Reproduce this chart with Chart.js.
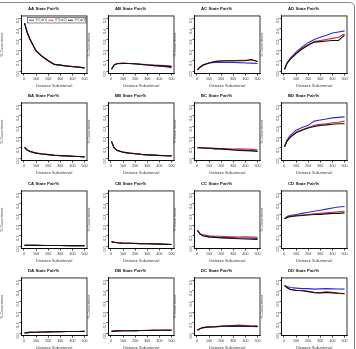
<!DOCTYPE html>
<html><head><meta charset="utf-8">
<script src="https://cdn.jsdelivr.net/npm/chart.js@4"></script>
<style>
html,body{margin:0;padding:0;background:#fff;width:356px;height:349px;overflow:hidden;position:relative;font-family:"Liberation Sans",Arial,sans-serif}
.p{position:absolute;width:90px;height:88px}
#frame{position:absolute;left:-4px;top:2px;width:357px;height:360px;border:1px solid #888;border-radius:5px}
</style></head><body>
<div id="frame"></div>
<script>
const xValues = [5, 25, 50, 100, 150, 200, 250, 300, 350, 400, 450, 500];
const xTicks = [0, 100, 200, 300, 400, 500];
const yTicks = [0, 0.1, 0.2, 0.3, 0.4, 0.5];
const seriesLabels = ['ST(ab1)', 'ST(ab2)', 'ST(ab3)'];
const seriesColors = ['#2b2bd6', '#d42a2a', '#111111'];
const panelNames = ['AA','AB','AC','AD','BA','BB','BC','BD','CA','CB','CC','CD','DA','DB','DC','DD'];

// each panel: [blue, red, black]
const AA = [
  [0.45,0.37,0.30,0.19,0.14,0.10,0.065,0.058,0.050,0.045,0.040,0.033],
  [0.455,0.375,0.305,0.195,0.143,0.103,0.068,0.060,0.053,0.047,0.042,0.035],
  [0.452,0.372,0.302,0.192,0.141,0.101,0.066,0.059,0.051,0.046,0.041,0.034]];
const AB = [
  [0.02,0.06,0.075,0.075,0.075,0.070,0.065,0.060,0.055,0.050,0.045,0.035],
  [0.02,0.06,0.075,0.078,0.075,0.072,0.068,0.065,0.060,0.058,0.055,0.050],
  [0.02,0.06,0.073,0.076,0.075,0.072,0.066,0.060,0.057,0.055,0.050,0.045]];
const AC = [
  [0.015,0.04,0.06,0.08,0.085,0.085,0.085,0.085,0.083,0.080,0.078,0.075],
  [0.015,0.04,0.058,0.08,0.095,0.100,0.100,0.100,0.105,0.105,0.108,0.095],
  [0.015,0.04,0.060,0.08,0.093,0.098,0.100,0.100,0.100,0.100,0.112,0.090]];
const AD = [
  [0.02,0.08,0.12,0.18,0.23,0.27,0.30,0.32,0.34,0.36,0.37,0.38],
  [0.02,0.075,0.115,0.17,0.22,0.25,0.28,0.29,0.30,0.31,0.32,0.35],
  [0.02,0.075,0.11,0.165,0.21,0.245,0.275,0.28,0.285,0.29,0.29,0.34]];
const BA = [
  [0.105,0.080,0.065,0.050,0.042,0.036,0.030,0.027,0.024,0.020,0.018,0.015],
  [0.105,0.082,0.066,0.051,0.043,0.037,0.031,0.028,0.025,0.022,0.019,0.016],
  [0.105,0.081,0.065,0.050,0.042,0.036,0.030,0.027,0.024,0.021,0.018,0.015]];
const BB = [
  [0.16,0.10,0.075,0.058,0.050,0.044,0.038,0.034,0.031,0.028,0.026,0.023],
  [0.16,0.102,0.077,0.060,0.051,0.045,0.039,0.035,0.032,0.029,0.027,0.025],
  [0.16,0.101,0.076,0.059,0.050,0.044,0.038,0.034,0.031,0.028,0.026,0.024]];
const BC = [
  [0.10,0.10,0.098,0.095,0.090,0.088,0.085,0.082,0.080,0.078,0.075,0.070],
  [0.10,0.10,0.100,0.098,0.095,0.093,0.090,0.088,0.090,0.088,0.085,0.082],
  [0.10,0.10,0.098,0.095,0.092,0.090,0.085,0.080,0.075,0.073,0.070,0.065]];
const BD = [
  [0.11,0.17,0.215,0.265,0.29,0.31,0.35,0.36,0.37,0.38,0.385,0.39],
  [0.11,0.165,0.20,0.245,0.27,0.29,0.31,0.32,0.325,0.335,0.34,0.35],
  [0.11,0.16,0.195,0.24,0.265,0.285,0.30,0.31,0.315,0.32,0.325,0.325]];
const CA = [
  [0.010,0.010,0.010,0.010,0.009,0.009,0.009,0.009,0.008,0.008,0.008,0.008],
  [0.010,0.010,0.010,0.010,0.010,0.009,0.009,0.009,0.009,0.008,0.008,0.008],
  [0.010,0.010,0.010,0.010,0.009,0.009,0.009,0.009,0.008,0.008,0.008,0.008]];
const CB = [
  [0.045,0.040,0.035,0.030,0.030,0.028,0.026,0.025,0.024,0.022,0.020,0.018],
  [0.045,0.041,0.036,0.031,0.030,0.029,0.027,0.026,0.025,0.023,0.021,0.019],
  [0.045,0.040,0.035,0.030,0.030,0.028,0.026,0.025,0.024,0.022,0.020,0.018]];
const CC = [
  [0.15,0.12,0.10,0.090,0.088,0.085,0.085,0.082,0.080,0.080,0.078,0.075],
  [0.15,0.12,0.11,0.100,0.095,0.095,0.090,0.090,0.088,0.090,0.088,0.085],
  [0.15,0.115,0.10,0.090,0.085,0.080,0.078,0.075,0.072,0.070,0.068,0.065]];
const CD = [
  [0.26,0.28,0.29,0.30,0.31,0.32,0.33,0.34,0.35,0.36,0.37,0.375],
  [0.26,0.275,0.285,0.29,0.295,0.30,0.305,0.31,0.315,0.32,0.325,0.33],
  [0.26,0.27,0.28,0.285,0.29,0.295,0.30,0.30,0.305,0.31,0.31,0.315]];
const DA = [
  [0.005,0.008,0.010,0.012,0.014,0.015,0.016,0.017,0.018,0.018,0.019,0.020],
  [0.005,0.008,0.010,0.012,0.014,0.015,0.016,0.017,0.018,0.018,0.019,0.020],
  [0.005,0.008,0.010,0.012,0.014,0.015,0.016,0.017,0.018,0.018,0.019,0.020]];
const DB = [
  [0.020,0.022,0.024,0.025,0.026,0.027,0.028,0.028,0.029,0.030,0.030,0.030],
  [0.020,0.022,0.024,0.025,0.026,0.027,0.028,0.029,0.029,0.030,0.031,0.031],
  [0.020,0.022,0.024,0.025,0.026,0.027,0.028,0.028,0.029,0.030,0.030,0.030]];
const DC = [
  [0.03,0.045,0.055,0.060,0.062,0.065,0.066,0.065,0.068,0.066,0.065,0.064],
  [0.03,0.045,0.055,0.062,0.065,0.070,0.072,0.075,0.078,0.075,0.070,0.072],
  [0.03,0.045,0.055,0.060,0.063,0.068,0.070,0.072,0.070,0.070,0.068,0.066]];
const DD = [
  [0.45,0.44,0.43,0.425,0.42,0.42,0.415,0.418,0.42,0.418,0.416,0.415],
  [0.45,0.43,0.415,0.405,0.402,0.395,0.385,0.383,0.39,0.385,0.378,0.375],
  [0.45,0.43,0.413,0.403,0.40,0.392,0.382,0.38,0.385,0.38,0.375,0.372]];

const panelData = [AA,AB,AC,AD,BA,BB,BC,BD,CA,CB,CC,CD,DA,DB,DC,DD];

Chart.defaults.font.family = '"Liberation Sans", Arial, sans-serif';
Chart.defaults.color = '#000';

const boxPlugin = {
  id: 'box',
  afterDraw(chart, args, opts) {
    const {ctx, chartArea: a} = chart;
    ctx.save();
    ctx.strokeStyle = '#000';
    ctx.lineWidth = 0.8;
    ctx.strokeRect(a.left, a.top, a.right - a.left, a.bottom - a.top);
    if (opts && opts.legend) {
      const l = a.left + 6, r = a.right - 1, t = a.top + 1.5, h = 5.5;
      ctx.lineWidth = 0.6;
      ctx.strokeStyle = '#333';
      ctx.strokeRect(l, t, r - l, h);
      const n = chart.data.datasets.length;
      const w = (r - l) / n;
      ctx.font = '3.2px "Liberation Sans", Arial, sans-serif';
      ctx.textBaseline = 'middle';
      ctx.textAlign = 'left';
      chart.data.datasets.forEach((ds, i) => {
        const x0 = l + 1.5 + i * w, y = t + h / 2;
        ctx.strokeStyle = ds.borderColor;
        ctx.lineWidth = 0.9;
        ctx.beginPath(); ctx.moveTo(x0, y); ctx.lineTo(x0 + 5, y); ctx.stroke();
        ctx.fillStyle = '#444';
        ctx.fillText(ds.label, x0 + 6.5, y + 0.2);
      });
    }
    ctx.restore();
  }
};

const colStep = 86.6, rowStep = 87.4;

panelData.forEach((series, idx) => {
  const r = Math.floor(idx / 4), c = idx % 4;
  const div = document.createElement('div');
  div.className = 'p';
  div.style.left = (c * colStep) + 'px';
  div.style.top = (r * rowStep) + 'px';
  const cv = document.createElement('canvas');
  cv.width = 90; cv.height = 88;
  cv.style.width = '90px'; cv.style.height = '88px';
  div.appendChild(cv);
  document.body.appendChild(div);
  new Chart(cv, {
    type: 'line',
    data: {
      datasets: series.map((ys, i) => ({
        label: seriesLabels[i],
        data: xValues.map((x, j) => ({x: x, y: ys[j]})),
        borderColor: seriesColors[i],
        backgroundColor: seriesColors[i],
        borderWidth: 1.1,
        pointRadius: 0,
        tension: 0,
        order: 3 - i
      }))
    },
    options: {
      responsive: false,
      animation: false,
      devicePixelRatio: 1,
      layout: {padding: {top: 0, right: 3, bottom: 0, left: 0}},
      plugins: {
        title: {display: true, text: panelNames[idx] + ' State Pair%', font: {size: 4.3, weight: 'bold'}, padding: {top: 6.5, bottom: 4.3}, color: '#111'},
        legend: {display: false},
        tooltip: {enabled: false},
        box: {legend: idx === 0}
      },
      scales: {
        x: {
          type: 'linear', min: -20, max: 520,
          afterBuildTicks: s => { s.ticks = xTicks.map(v => ({value: v})); },
          afterFit: s => { s.height = 14.4; },
          ticks: {font: {size: 3.6}, padding: 1.5, maxRotation: 0, autoSkip: false, color: '#333'},
          grid: {display: true, drawOnChartArea: false, tickLength: 2, color: '#000', lineWidth: 0.7},
          border: {display: true, color: '#000', width: 0.8},
          title: {display: true, text: 'Distance Sub-interval', font: {size: 3.8}, padding: {top: 1, bottom: 0}, color: '#333'}
        },
        y: {
          type: 'linear', min: -0.02, max: 0.52,
          afterBuildTicks: s => { s.ticks = yTicks.map(v => ({value: v})); },
          afterFit: s => { s.width = 21.5; },
          ticks: {font: {size: 3.6}, padding: 1.5, minRotation: 90, maxRotation: 90, autoSkip: false, color: '#333', callback: v => Number(v).toFixed(1)},
          grid: {display: true, drawOnChartArea: false, tickLength: 2, color: '#000', lineWidth: 0.7},
          border: {display: true, color: '#000', width: 0.8},
          title: {display: true, text: '% Occurrence', font: {size: 3.8}, padding: {top: 0, bottom: 1.5}, color: '#333'}
        }
      }
    },
    plugins: [boxPlugin]
  });
});
</script>
</body></html>
